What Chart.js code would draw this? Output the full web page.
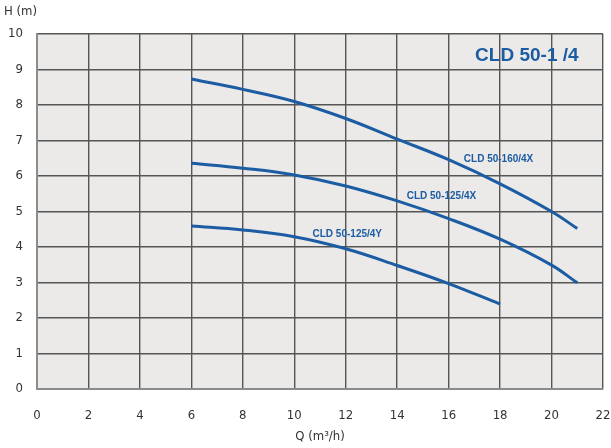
<!DOCTYPE html>
<html>
<head>
<meta charset="utf-8">
<script src="https://cdn.jsdelivr.net/npm/chart.js@4/dist/chart.umd.min.js"></script>
<style>
  body { margin: 0; background: #fff; }
  #wrap { width: 611px; height: 448px; }
</style>
</head>
<body>
<div id="wrap"><canvas id="pumpCanvas"></canvas></div>
<script>
// flow Q (m3/h) and head H (m)
const flow160_4X = [6, 8, 10, 12, 14, 16, 18, 20, 21];
const head160_4X = [8.73, 8.44, 8.10, 7.62, 7.04, 6.46, 5.78, 5.00, 4.52];

const flow125_4X = [6, 8, 10, 12, 14, 16, 18, 20, 21];
const head125_4X = [6.36, 6.22, 6.03, 5.72, 5.30, 4.80, 4.22, 3.49, 2.99];

const flow125_4Y = [6, 8, 10, 12, 14, 16, 18];
const head125_4Y = [4.59, 4.48, 4.29, 3.95, 3.48, 2.97, 2.39];

const seriesNames = ["CLD 50-160/4X", "CLD 50-125/4X", "CLD 50-125/4Y"];
const chartTitle = "CLD 50-1 /4";

// where each curve label sits (Q, H)
const labelAnchors = [[17.94, 6.48], [15.72, 5.44], [12.06, 4.36]];

const blue = '#1b5ca3';

function toPoints(xs, ys) {
  return xs.map((x, i) => ({ x: x, y: ys[i] }));
}

const plotBackground = {
  id: 'plotBackground',
  beforeDraw(chart) {
    const a = chart.chartArea;
    const ctx = chart.ctx;
    ctx.save();
    ctx.fillStyle = '#ebeae9';
    ctx.fillRect(a.left, a.top, a.right - a.left, a.bottom - a.top);
    ctx.restore();
  }
};

const curveLabels = {
  id: 'curveLabels',
  afterDatasetsDraw(chart) {
    const ctx = chart.ctx;
    const xs = chart.scales.x, ys = chart.scales.y;
    ctx.save();
    ctx.fillStyle = blue;
    ctx.font = 'bold 10px "Liberation Sans", Arial, sans-serif';
    ctx.textAlign = 'center';
    ctx.textBaseline = 'middle';
    labelAnchors.forEach((p, i) => {
      ctx.fillText(seriesNames[i], xs.getPixelForValue(p[0]), ys.getPixelForValue(p[1]));
    });
    ctx.font = 'bold 19px "Liberation Sans", Arial, sans-serif';
    ctx.fillText(chartTitle, xs.getPixelForValue(19.04), ys.getPixelForValue(9.4));
    ctx.textAlign = 'left';
    ctx.fillStyle = '#333';
    ctx.font = '13px "DejaVu Sans Condensed", "Liberation Sans Narrow", sans-serif';
    ctx.fillText('H (m)', 4, 12);
    ctx.restore();
  }
};

const ctx = document.getElementById('pumpCanvas').getContext('2d');
const datasets = [
  toPoints(flow160_4X, head160_4X),
  toPoints(flow125_4X, head125_4X),
  toPoints(flow125_4Y, head125_4Y)
].map((d, i) => ({
  label: seriesNames[i],
  data: d,
  borderColor: blue,
  borderWidth: 3,
  pointRadius: 0,
  tension: 0.4,
  fill: false
}));

const tickFont = { family: '"DejaVu Sans Condensed", "Liberation Sans Narrow", sans-serif', size: 13 };

new Chart(ctx, {
  type: 'line',
  data: { datasets: datasets },
  plugins: [plotBackground, curveLabels],
  options: {
    responsive: true,
    maintainAspectRatio: false,
    animation: false,
    layout: { padding: { left: 0, right: 0, top: 34, bottom: 0 } },
    scales: {
      x: {
        type: 'linear',
        min: 0,
        max: 22,
        ticks: { stepSize: 2, color: '#333', font: tickFont, padding: 19 },
        grid: { color: '#555', lineWidth: 1.4, drawTicks: false },
        border: { color: '#8c8c8c', width: 2 },
        title: { display: true, text: 'Q (m³/h)', color: '#333', font: tickFont, padding: { top: 2 } },
        afterFit(scale) {
          scale.height = 59;
          scale.paddingLeft = 0;
          scale.paddingRight = 8;
        }
      },
      y: {
        min: 0,
        max: 10,
        ticks: { stepSize: 1, color: '#333', font: tickFont, padding: 14 },
        grid: { color: '#555', lineWidth: 1.4, drawTicks: false },
        border: { color: '#8c8c8c', width: 2 },
        afterFit(scale) {
          scale.width = 37;
          scale.paddingTop = 0;
          scale.paddingBottom = 0;
        }
      }
    },
    plugins: {
      legend: { display: false },
      tooltip: { enabled: false }
    }
  }
});
</script>
</body>
</html>
